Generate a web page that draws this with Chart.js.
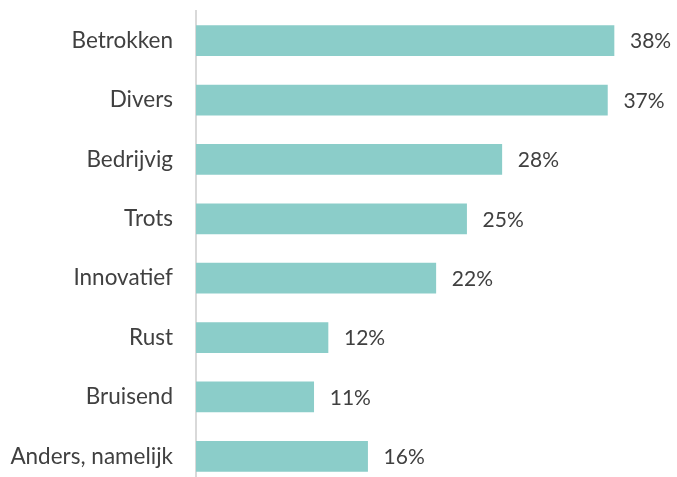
<!DOCTYPE html>
<html>
<head>
<meta charset="utf-8">
<script src="https://cdn.jsdelivr.net/npm/chart.js@4"></script>
<style>
  html, body { margin: 0; padding: 0; background: #fff; overflow: hidden; }
  /* chart area runs a little past the bottom edge, like the original */
  #wrap { width: 677px; height: 486px; }
</style>
</head>
<body>
<div id="wrap"><canvas id="chart"></canvas></div>
<script>
// data
const categories = ['Betrokken', 'Divers', 'Bedrijvig', 'Trots', 'Innovatief', 'Rust', 'Bruisend', 'Anders, namelijk'];
const values = [38.0, 37.4, 27.8, 24.6, 21.8, 12.0, 10.7, 15.6];

const textColor = '#404040';
const fontFamily = 'Lato, "Open Sans", sans-serif';

// percentage labels right of each bar
const valueLabels = {
    id: 'valueLabels',
    afterDatasetsDraw(chart) {
        const ctx = chart.ctx;
        const meta = chart.getDatasetMeta(0);
        ctx.save();
        ctx.font = '21px ' + fontFamily;
        ctx.fillStyle = textColor;
        ctx.textAlign = 'left';
        ctx.textBaseline = 'middle';
        meta.data.forEach(function (bar, i) {
            ctx.fillText(Math.round(values[i]) + '%', bar.x + 16, bar.y + 1);
        });
        ctx.restore();
    }
};

new Chart(document.getElementById('chart'), {
    type: 'bar',
    data: {
        labels: categories,
        datasets: [{
            data: values,
            backgroundColor: '#8BCDC9',
            barThickness: 30
        }]
    },
    options: {
        indexAxis: 'y',
        responsive: true,
        maintainAspectRatio: false,
        animation: false,
        layout: { padding: { top: 11, bottom: 0, left: 0, right: 8 } },
        plugins: {
            legend: { display: false },
            tooltip: { enabled: false }
        },
        scales: {
            x: {
                display: false,
                min: 0,
                max: 43
            },
            y: {
                afterFit: function (scale) {
                    scale.width = 196;
                    // tick padding would otherwise be added above and below too
                    scale.paddingTop = 0;
                    scale.paddingBottom = 0;
                },
                grid: { display: false, drawTicks: false },
                border: { display: true, color: '#d9d9d9', width: 2 },
                ticks: {
                    padding: 23,
                    color: textColor,
                    font: { family: fontFamily, size: 22.5 }
                }
            }
        }
    },
    plugins: [valueLabels]
});
</script>
</body>
</html>
